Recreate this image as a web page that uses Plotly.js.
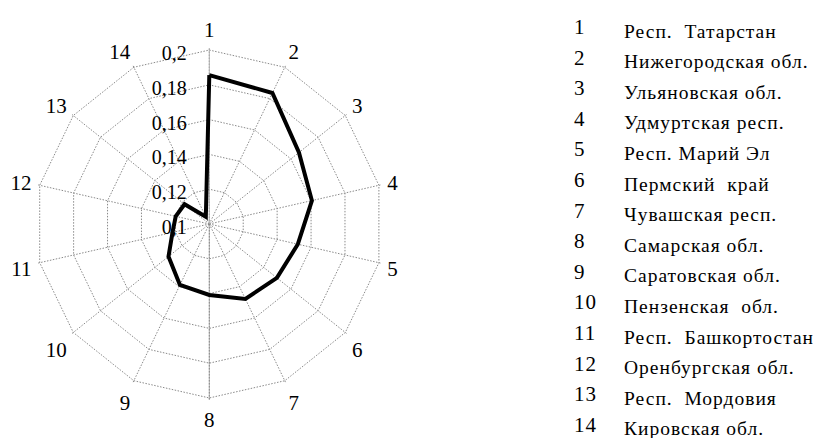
<!DOCTYPE html>
<html>
<head>
<meta charset="utf-8">
<script src="https://cdn.plot.ly/plotly-3.0.1.min.js"></script>
<style>
  html, body { margin: 0; padding: 0; background: #fff; }
  #chart { width: 818px; height: 438px; }
  .annotation-text { letter-spacing: 1px; }
</style>
</head>
<body>
<div id="chart"></div>
<script>
// ---- data ----
const categories = ['1','2','3','4','5','6','7','8','9','10','11','12','13','14'];
const regionNames = [
  'Респ.\u00A0 Татарстан',
  'Нижегородская обл.',
  'Ульяновская обл.',
  'Удмуртская респ.',
  'Респ. Марий Эл',
  'Пермский\u00A0 край',
  'Чувашская респ.',
  'Самарская обл.',
  'Саратовская обл.',
  'Пензенская\u00A0 обл.',
  'Респ.\u00A0 Башкортостан',
  'Оренбургская обл.',
  'Респ.\u00A0 Мордовия',
  'Кировская обл.'
];
const values = [0.1856, 0.1836, 0.1659, 0.1605, 0.1522, 0.1497, 0.1478, 0.1408, 0.1389, 0.1300, 0.1217, 0.1198, 0.1182, 0.1046];
const radialTicks = [0.1, 0.12, 0.14, 0.16, 0.18, 0.2];
const radialRange = [0.1, 0.201];

// ---- layout helpers ----
const W = 818, H = 438;
const cx = 209.3, cy = 224, R = 175.7;
const dom = {
  x: [(cx - R) / W, (cx + R) / W],
  y: [(H - cy - R) / H, (H - cy + R) / H]
};
const serif = 'Liberation Serif, Times New Roman, serif';
const gridCol = '#8a8a8a';
const dotDash = '1.5px,1.5px';

const traces = [
  { // helper subplot: solid lower half of the vertical axis
    type: 'scatterpolar', subplot: 'polar', r: [radialRange[0]], theta: [categories[0]],
    mode: 'markers', marker: { opacity: 0, size: 1 }, showlegend: false, hoverinfo: 'skip'
  },
  {
    type: 'scatterpolar', subplot: 'polar2',
    r: values.concat([values[0]]),
    theta: categories.concat([categories[0]]),
    mode: 'lines',
    line: { color: '#000', width: 4, shape: 'linear' },
    showlegend: false
  }
];

const annotations = [];
categories.forEach((c, i) => {
  const yNum = 27 + i * 30.6;
  annotations.push({
    xref: 'paper', yref: 'paper', x: 572 / W, y: 1 - yNum / H,
    xanchor: 'left', yanchor: 'middle', showarrow: false,
    text: c, font: { family: serif, size: 21, color: '#000' }
  });
  annotations.push({
    xref: 'paper', yref: 'paper', x: 622 / W, y: 1 - (yNum + 4) / H,
    xanchor: 'left', yanchor: 'middle', showarrow: false,
    text: regionNames[i], font: { family: serif, size: 19.5, color: '#000' }
  });
});

const layout = {
  width: W, height: H,
  margin: { l: 0, r: 0, t: 0, b: 0 },
  paper_bgcolor: '#fff',
  separators: ',.',
  showlegend: false,
  font: { family: serif, color: '#000' },
  polar: {
    domain: dom,
    bgcolor: 'rgba(0,0,0,0)',
    gridshape: 'linear',
    radialaxis: {
      range: radialRange, angle: 270, showline: true, linecolor: '#b0b0b0', linewidth: 1,
      showgrid: false, showticklabels: false, ticks: ''
    },
    angularaxis: {
      type: 'category', categoryarray: categories, direction: 'clockwise', rotation: 90,
      showline: false, showgrid: false, showticklabels: false, ticks: ''
    }
  },
  polar2: {
    domain: dom,
    bgcolor: 'rgba(0,0,0,0)',
    gridshape: 'linear',
    radialaxis: {
      range: radialRange, angle: 90, tickmode: 'array', tickvals: radialTicks,
      showline: true, linecolor: '#b0b0b0', linewidth: 1,
      gridcolor: gridCol, griddash: dotDash, gridwidth: 1,
      ticks: 'outside', ticklen: 4, tickcolor: 'rgba(0,0,0,0)',
      side: 'counterclockwise', layer: 'below traces',
      tickfont: { family: serif, size: 20, color: '#000' }
    },
    angularaxis: {
      type: 'category', categoryarray: categories, direction: 'clockwise', rotation: 90,
      showline: false,
      gridcolor: gridCol, griddash: dotDash, gridwidth: 1,
      ticks: 'outside', ticklen: 2, tickcolor: 'rgba(0,0,0,0)', layer: 'below traces',
      tickfont: { family: serif, size: 21, color: '#000' }
    }
  },
  annotations: annotations
};

Plotly.newPlot('chart', traces, layout, { staticPlot: true, displayModeBar: false });
</script>
</body>
</html>
